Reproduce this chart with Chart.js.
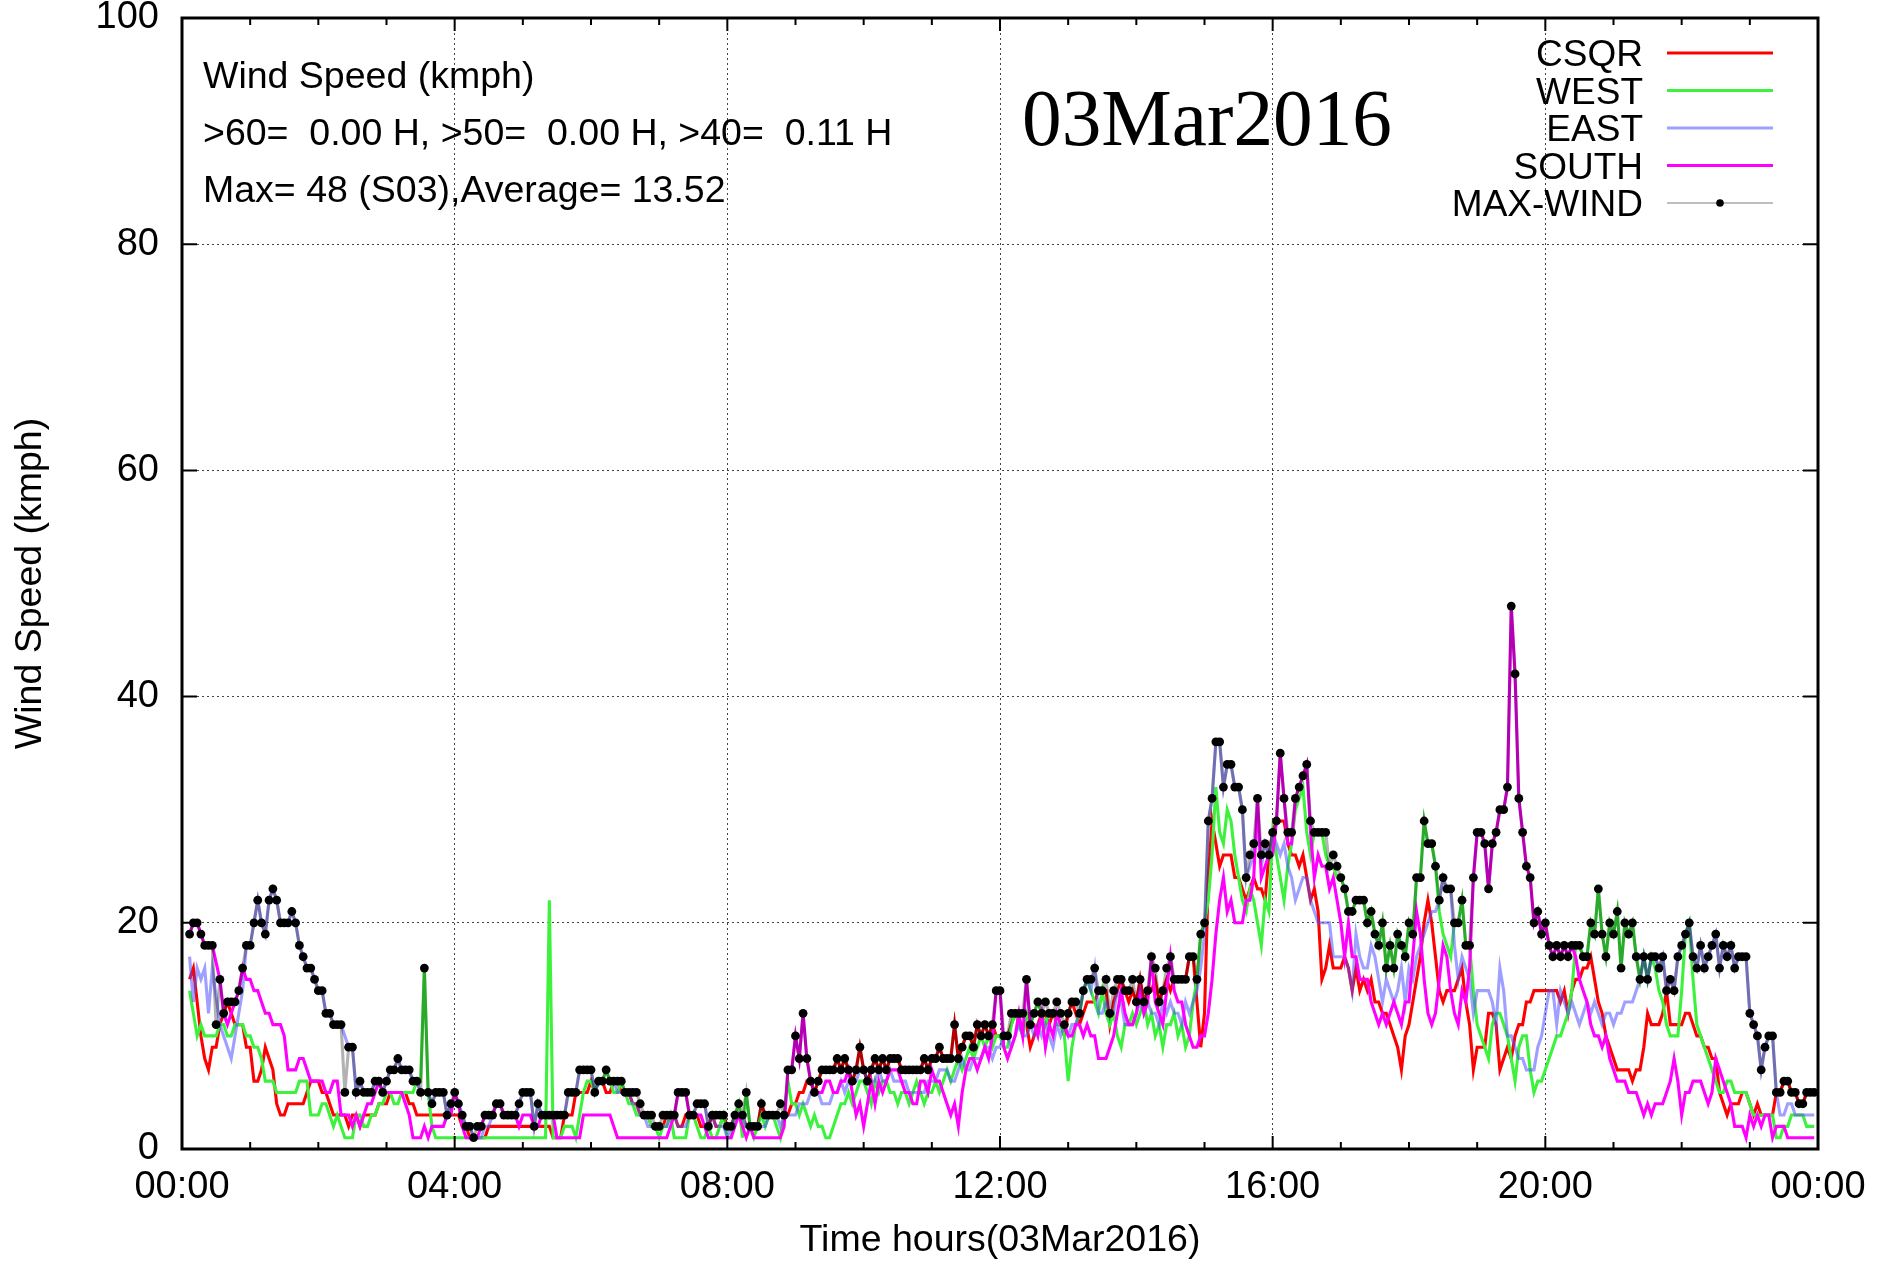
<!DOCTYPE html>
<html>
<head>
<meta charset="utf-8">
<title>Wind Speed 03Mar2016</title>
<script src="https://cdn.jsdelivr.net/npm/chart.js@4.4.1/dist/chart.umd.min.js"></script>
<style>
  html, body { margin: 0; padding: 0; background: #fff; }
  #wrap { width: 1886px; height: 1264px; }
</style>
</head>
<body>
<div id="wrap"><canvas id="windChart"></canvas></div>
<script>
// readings every 3 min 20 s, first one at 00:06:40 (one line per hour)
const firstMinute = 20 / 3;
const stepMinutes = 10 / 3;

const csqr = [
  15,16,13,10,8,7,9,9,11,12,13,12,11,11,11,9,
  9,6,6,7,9,8,7,4,3,3,4,4,4,4,4,5,6,6,
  6,5,5,4,3,3,3,3,2,3,3,2,3,3,3,3,4,4,
  4,5,5,5,5,5,4,4,3,3,3,3,3,3,3,3,3,3,
  3,3,2,2,1,1,1,1,1,2,2,2,2,2,2,2,2,2,
  2,2,2,2,2,2,2,2,1,1,1,3,3,3,5,5,5,5,
  6,5,6,6,5,5,6,6,5,5,5,4,4,3,3,3,2,2,
  2,2,3,3,3,2,2,3,3,3,3,2,2,2,3,2,2,3,
  2,2,3,3,3,2,2,2,2,4,3,3,3,3,3,3,3,4,
  4,5,5,6,6,5,6,7,7,7,7,8,7,8,7,6,7,9,
  7,6,7,8,7,8,7,8,8,8,7,7,7,7,7,7,8,7,
  8,8,9,8,8,8,11,8,9,10,10,9,11,10,11,10,11,10,
  10,10,10,11,12,12,12,11,9,10,11,12,12,11,12,12,11,10,
  12,13,12,11,12,13,13,13,14,14,14,11,13,14,15,14,13,14,
  13,15,13,14,14,15,13,14,15,14,15,15,15,15,17,17,13,9,
  12,24,29,27,25,26,26,26,24,24,23,22,23,24,23,23,22,26,
  28,29,29,29,27,26,26,25,26,24,22,23,21,15,16,18,16,16,
  16,17,16,14,16,14,15,14,15,13,13,12,12,11,10,9,7,10,
  11,13,15,17,20,22,20,17,14,13,14,14,14,15,16,13,11,7,
  9,9,9,12,12,11,7,8,9,8,10,11,11,13,13,14,14,14,
  14,14,14,14,13,14,12,14,15,15,16,16,17,15,13,12,10,9,
  8,7,7,7,7,6,7,7,9,12,11,11,11,12,14,11,11,11,
  11,12,12,11,10,10,9,9,8,8,5,4,3,4,4,4,5,5,
  4,3,4,3,3,3,3,5,5,6,6,5,5,4,4,5,5,5
];

const west = [
  14,12,10,11,10,10,10,10,11,11,10,10,11,11,11,10,
  10,9,9,8,6,6,6,5,5,5,5,5,5,6,6,6,3,3,
  3,4,4,3,2,3,2,1,1,1,3,3,2,2,3,3,4,4,
  5,5,4,4,5,5,5,5,6,6,16,5,2,1,1,1,1,1,
  1,1,1,1,1,1,1,1,1,1,1,1,1,1,1,1,1,1,
  1,1,1,1,1,1,1,22,1,1,1,2,2,2,1,3,5,6,
  6,5,6,6,7,6,5,5,6,5,4,4,3,3,3,3,2,2,
  1,2,2,3,1,1,1,1,3,3,2,1,1,2,1,1,2,3,
  1,1,3,4,1,5,2,1,2,3,2,3,3,2,1,3,6,4,
  4,3,4,3,2,3,2,2,1,1,2,3,4,4,5,4,5,6,
  6,5,4,6,5,6,6,5,5,4,5,5,4,5,6,5,4,5,
  5,6,5,6,7,6,7,8,7,8,9,8,9,10,9,10,9,10,
  10,9,9,11,12,11,10,12,11,12,13,12,11,12,12,11,11,10,
  6,9,11,12,14,15,14,13,12,14,12,11,12,10,9,11,11,12,
  11,12,13,11,12,10,11,9,11,11,12,10,11,9,10,13,15,19,
  20,22,26,32,28,27,30,29,26,24,22,21,23,22,20,18,22,21,
  28,26,24,22,25,27,30,31,32,28,26,28,28,28,26,25,25,24,
  24,23,21,21,22,22,22,20,21,19,18,20,16,18,16,19,18,17,
  20,19,24,24,29,27,27,25,21,19,18,17,20,20,22,18,18,14,
  11,10,9,8,11,12,12,11,10,8,6,9,10,10,7,5,6,6,
  7,8,9,10,10,11,12,14,18,18,17,17,20,19,23,19,17,20,
  19,21,16,20,19,20,17,15,17,15,17,16,14,13,11,10,10,10,
  14,19,20,15,11,10,9,8,7,6,5,5,6,6,5,5,5,5,
  4,3,3,3,3,3,3,1,1,2,2,3,3,3,3,2,2,2
];

const east = [
  17,13,16,15,16,12,16,null,11,10,9,8,10,12,14,18,
  18,20,22,20,19,22,23,22,20,20,20,21,20,18,17,16,16,15,
  14,14,12,12,11,11,11,null,9,9,5,6,5,5,5,6,6,5,
  6,7,7,8,7,7,7,6,6,5,5,5,4,5,5,5,3,4,
  4,4,3,2,2,1,1,1,2,2,3,4,4,3,3,3,3,4,
  5,5,5,2,4,3,3,3,3,3,3,3,5,5,5,7,7,7,
  7,5,6,6,6,6,6,5,5,5,5,4,4,3,3,2,2,2,
  2,2,2,3,3,2,2,2,3,3,4,4,4,2,3,2,2,2,
  1,2,3,3,3,2,2,2,2,2,2,3,3,3,2,3,3,3,
  3,4,4,4,5,5,5,4,4,4,5,5,6,5,6,6,6,7,
  7,6,6,6,7,6,6,7,6,6,6,6,5,5,5,5,5,6,
  6,6,7,7,7,6,6,7,8,7,7,8,8,8,9,9,8,9,
  9,10,10,9,10,11,10,10,11,10,11,10,11,10,9,11,10,11,
  10,11,11,12,14,15,14,16,12,12,13,12,12,14,13,11,11,11,
  12,13,12,13,12,12,11,13,12,13,12,12,11,13,12,13,14,16,
  19,29,31,36,36,32,34,34,32,32,30,24,25,26,28,25,27,26,
  28,27,26,27,25,24,22,23,24,24,22,21,20,20,20,20,17,17,
  17,17,16,14,19,17,16,16,18,17,15,13,15,14,13,14,16,13,
  16,15,17,18,19,20,21,21,22,24,23,23,18,15,17,16,15,12,
  14,14,14,14,13,11,16,14,10,10,9,8,8,7,7,7,9,10,
  12,14,14,11,14,13,12,13,12,11,12,13,12,13,12,11,12,12,
  11,12,12,13,13,13,14,15,17,15,17,17,16,17,14,15,14,17,
  18,19,20,17,16,18,16,17,18,19,16,18,17,18,16,17,17,17,
  12,11,10,7,9,10,10,5,3,3,4,4,3,3,3,3,3,3
];

const south = [
  19,20,20,19,18,18,18,null,15,12,11,12,13,14,16,15,
  15,14,14,13,12,12,11,11,11,10,7,7,7,8,8,7,6,6,
  6,6,5,5,6,6,3,3,3,2,3,2,3,4,4,5,6,5,
  5,5,5,5,5,4,3,1,1,1,2,1,2,2,2,2,3,3,
  5,4,2,1,1,1,1,2,3,3,3,4,4,3,3,3,3,2,
  3,3,3,2,2,3,3,3,3,1,1,1,1,1,1,1,3,3,
  3,3,3,3,3,3,2,1,1,1,1,1,1,1,1,1,1,1,
  1,1,1,2,3,5,5,5,3,3,3,3,2,1,1,1,1,1,
  1,1,2,3,2,1,2,1,1,1,1,1,1,1,1,2,7,7,
  10,8,12,8,6,5,5,5,6,6,5,5,6,6,7,5,3,4,
  2,4,6,4,6,5,6,7,7,7,6,5,5,4,4,6,6,5,
  7,6,6,5,4,3,4,2,5,7,8,8,7,8,9,8,10,14,
  14,9,8,9,10,12,10,15,11,11,10,12,9,11,10,12,11,11,
  10,10,11,11,10,11,10,10,8,8,8,9,10,12,14,12,11,11,
  12,14,12,13,17,13,12,11,14,17,14,13,13,11,10,9,9,10,
  10,12,15,19,22,24,21,22,20,20,20,22,22,24,31,24,25,26,
  26,29,35,31,27,27,31,32,33,34,28,24,26,25,25,23,24,22,
  20,17,20,17,17,15,15,15,13,12,11,12,11,12,13,12,11,13,
  13,17,21,19,15,12,11,12,15,18,17,14,12,11,14,13,16,24,
  28,28,27,23,27,28,30,30,32,48,42,31,28,25,24,20,21,19,
  20,18,17,18,17,18,17,18,17,15,14,13,11,10,10,9,10,8,
  7,6,6,6,5,5,5,4,3,4,3,4,4,4,5,6,8,6,
  3,5,5,6,6,6,5,4,5,8,7,6,5,4,2,2,2,1,
  3,2,3,2,3,3,1,2,2,2,1,1,1,1,1,1,1,1
];

const maxWind = [
  19,20,20,19,18,18,18,11,15,12,13,13,13,14,16,18,
  18,20,22,20,19,22,23,22,20,20,20,21,20,18,17,16,16,15,
  14,14,12,12,11,11,11,5,9,9,5,6,5,5,5,6,6,5,
  6,7,7,8,7,7,7,6,6,5,16,5,4,5,5,5,3,4,
  5,4,3,2,2,1,2,2,3,3,3,4,4,3,3,3,3,4,
  5,5,5,2,4,3,3,3,3,3,3,3,5,5,5,7,7,7,
  7,5,6,6,7,6,6,6,6,5,5,5,5,4,3,3,3,2,
  2,3,3,3,3,5,5,5,3,3,4,4,4,2,3,3,3,3,
  2,2,3,4,3,5,2,2,2,4,3,3,3,3,4,3,7,7,
  10,8,12,8,6,5,6,7,7,7,7,8,7,8,7,6,7,9,
  7,6,7,8,7,8,7,8,8,8,7,7,7,7,7,7,8,7,
  8,8,9,8,8,8,11,8,9,10,10,9,11,10,11,10,11,14,
  14,10,10,12,12,12,12,15,11,12,13,12,13,12,12,13,12,11,
  12,13,13,12,14,15,15,16,14,14,15,12,14,15,15,14,14,15,
  13,15,13,14,17,16,13,14,16,17,15,15,15,15,17,17,15,19,
  20,29,31,36,36,32,34,34,32,32,30,24,26,27,31,26,27,26,
  28,29,35,31,28,28,31,32,33,34,29,28,28,28,28,25,26,25,
  24,23,21,21,22,22,22,20,21,19,18,20,16,18,16,19,18,17,
  20,19,24,24,29,27,27,25,22,24,23,23,20,20,22,18,18,24,
  28,28,27,23,27,28,30,30,32,48,42,31,28,25,24,20,21,19,
  20,18,17,18,17,18,17,18,18,18,17,17,20,19,23,19,17,20,
  19,21,16,20,19,20,17,15,17,15,17,17,16,17,14,15,14,17,
  18,19,20,17,16,18,16,17,18,19,16,18,17,18,16,17,17,17,
  12,11,10,7,9,10,10,5,5,6,6,5,5,4,4,5,5,5
];

const dateLabel = '03Mar2016';
const infoLines = [
  'Wind Speed (kmph)',
  '>60=  0.00 H, >50=  0.00 H, >40=  0.11 H',
  'Max= 48 (S03),Average= 13.52'
];

const sans = '"Liberation Sans", Arial, Helvetica, sans-serif';
const serif = '"Liberation Serif", "Times New Roman", serif';

const hours = maxWind.map((v, i) => (firstMinute + i * stepMinutes) / 60);
const toPoints = arr => arr.map((v, i) => ({ x: hours[i], y: v }));

const lineSet = (label, data, color, order) => ({
  label: label,
  data: toPoints(data),
  borderColor: color,
  backgroundColor: color,
  borderWidth: 3.1,
  pointRadius: 0,
  tension: 0,
  spanGaps: true,
  order: order,
});

// frame, inward tics, notes and the key, drawn after the chart
const decor = {
  id: 'decor',
  afterDraw(chart) {
    const ctx = chart.ctx;
    const { left, right, top, bottom } = chart.chartArea;
    const xs = chart.scales.x;
    const ys = chart.scales.y;
    ctx.save();

    ctx.strokeStyle = '#000';
    ctx.lineWidth = 2;
    ctx.beginPath();
    for (let h = 0; h <= 24; h++) {
      const px = xs.getPixelForValue(h);
      const len = h % 4 === 0 ? 13 : 7;
      ctx.moveTo(px, bottom); ctx.lineTo(px, bottom - len);
      ctx.moveTo(px, top); ctx.lineTo(px, top + len);
    }
    for (let v = 0; v <= 100; v += 20) {
      const py = ys.getPixelForValue(v);
      ctx.moveTo(left, py); ctx.lineTo(left + 15, py);
      ctx.moveTo(right, py); ctx.lineTo(right - 15, py);
    }
    ctx.stroke();
    ctx.lineWidth = 3;
    ctx.strokeRect(left, top, right - left, bottom - top);

    // notes in the top left corner
    ctx.fillStyle = '#000';
    ctx.font = '37.5px ' + sans;
    ctx.textAlign = 'left';
    ctx.textBaseline = 'alphabetic';
    infoLines.forEach((t, k) => ctx.fillText(t, left + 21, top + 70 + k * 57));

    // date, a little narrower than plain Times
    ctx.font = '80px ' + serif;
    const w = ctx.measureText(dateLabel).width;
    ctx.save();
    ctx.translate(left + 840, top + 127);
    ctx.scale(370 / w, 1);
    ctx.fillText(dateLabel, 0, 0);
    ctx.restore();

    // key
    ctx.font = '37px ' + sans;
    ctx.textAlign = 'right';
    const sets = chart.data.datasets;
    sets.forEach((ds, k) => {
      const y = top + 35 + k * 37.5;
      ctx.fillStyle = '#000';
      ctx.fillText(ds.label, left + 1461, y + 13);
      ctx.beginPath();
      ctx.moveTo(left + 1485, y);
      ctx.lineTo(left + 1591, y);
      if (ds.pointRadius > 0) {
        ctx.strokeStyle = '#a8a8a8';
        ctx.lineWidth = 1.5;
        ctx.stroke();
        ctx.beginPath();
        ctx.fillStyle = '#000';
        ctx.arc(left + 1538, y, 3.8, 0, Math.PI * 2);
        ctx.fill();
      } else {
        ctx.strokeStyle = ds.borderColor;
        ctx.lineWidth = 3;
        ctx.stroke();
      }
    });
    ctx.restore();
  }
};

new Chart(document.getElementById('windChart'), {
  type: 'line',
  data: {
    datasets: [
      lineSet('CSQR', csqr, '#ff0000', 5),
      lineSet('WEST', west, '#3df23d', 4),
      lineSet('EAST', east, 'rgba(80, 80, 255, 0.55)', 3),
      lineSet('SOUTH', south, '#ff00ff', 2),
      {
        label: 'MAX-WIND',
        data: toPoints(maxWind),
        borderColor: 'rgba(0, 0, 0, 0.3)',
        borderWidth: 3.1,
        pointRadius: 4.4,
        pointBackgroundColor: '#000',
        pointBorderWidth: 0,
        tension: 0,
        order: 1,
      }
    ]
  },
  options: {
    responsive: true,
    maintainAspectRatio: false,
    animation: false,
    events: [],
    layout: { padding: { left: 0, top: 18, right: 68, bottom: 0 } },
    plugins: {
      legend: { display: false },
      tooltip: { enabled: false },
    },
    scales: {
      x: {
        type: 'linear',
        min: 0,
        max: 24,
        ticks: {
          stepSize: 4,
          maxRotation: 0,
          autoSkip: false,
          color: '#000',
          padding: 20,
          font: { family: sans, size: 38, lineHeight: 1 },
          callback: v => String(v % 24).padStart(2, '0') + ':00',
        },
        grid: { color: '#444', lineWidth: 1, drawTicks: false },
        border: { display: false, dash: [2, 3] },
        title: {
          display: true,
          text: 'Time hours(03Mar2016)',
          color: '#000',
          font: { family: sans, size: 37.5 },
          padding: { top: 0, bottom: 1 },
        },
        afterFit: s => {
          s.height = 115;
          s.paddingLeft = 0;
          s.paddingRight = 0;
        },
      },
      y: {
        min: 0,
        max: 100,
        ticks: {
          stepSize: 20,
          color: '#000',
          padding: 23,
          font: { family: sans, size: 38, lineHeight: 1 },
        },
        grid: { color: '#444', lineWidth: 1, drawTicks: false },
        border: { display: false, dash: [2, 3] },
        title: {
          display: true,
          text: 'Wind Speed (kmph)',
          color: '#000',
          font: { family: sans, size: 37.5 },
          padding: { top: 8, bottom: 0 },
        },
        afterFit: s => {
          s.width = 182;
          s.paddingTop = 0;
          s.paddingBottom = 0;
        },
      }
    }
  },
  plugins: [decor]
});
</script>
</body>
</html>
